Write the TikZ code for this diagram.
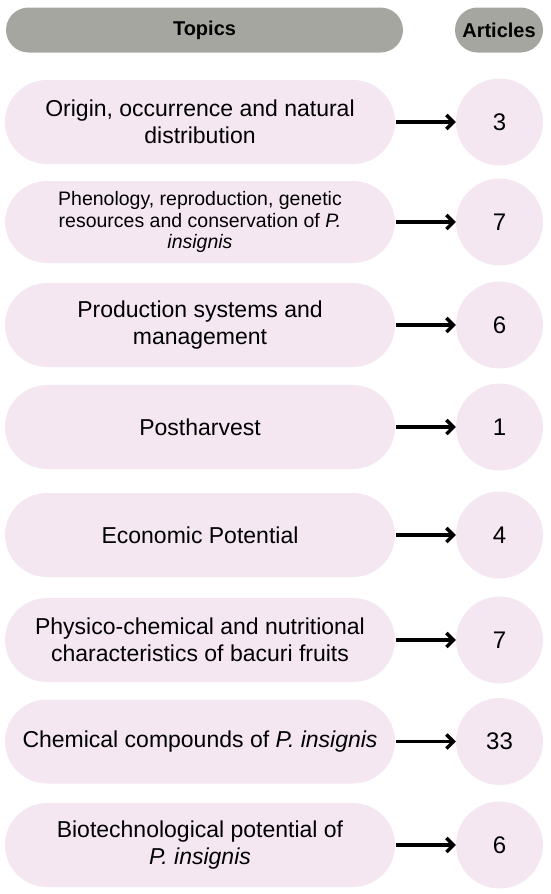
\documentclass[tikz,border=0pt]{standalone}
\usepackage{fontspec}
\setmainfont{Liberation Sans}
\usepackage{tikz}
\usetikzlibrary{arrows.meta}

\definecolor{pillpink}{RGB}{244,231,242}
\definecolor{headgray}{RGB}{166,166,161}

\begin{document}
\begin{tikzpicture}[x=1pt, y=-1pt,
    head/.style={fill=headgray, rounded corners=22.5pt, minimum height=45pt,
      inner sep=0pt, font=\fontsize{20}{24}\selectfont\bfseries},
    topic/.style={fill=pillpink, rounded corners=42pt, minimum width=390pt,
      minimum height=84pt, inner sep=0pt, align=center,
      font=\fontsize{23}{27}\selectfont},
    count/.style={circle, fill=pillpink, minimum size=87pt, inner sep=0pt,
      font=\fontsize{24}{28}\selectfont},
    link/.style={line width=3.4pt, shorten <=1pt,
      -{Straight Barb[length=7pt,width=14pt,line width=3.4pt]}}]
  \useasboundingbox (0,0) rectangle (550,894);

  \node[head, minimum width=397pt] (topics) at (204.5,30) {Topics};
  \node[head, minimum width=88pt] (articles) at (499,30) {Articles};

  \node[topic] (t1) at (200,122) {Origin, occurrence and natural\\distribution};
  \node[count] (n1) at (499.5,122) {3};
  \node[topic, minimum height=82pt, font=\fontsize{19.5}{21.5}\selectfont] (t2) at (200,222)
    {Phenology, reproduction, genetic\\resources and conservation of \textit{P.}\\\textit{insignis}};
  \node[count] (n2) at (499.5,222) {7};
  \node[topic] (t3) at (200,325) {Production systems and\\management};
  \node[count] (n3) at (499.5,325) {6};
  \node[topic] (t4) at (200,427) {Postharvest};
  \node[count] (n4) at (499.5,427) {1};
  \node[topic] (t5) at (200,535) {Economic Potential};
  \node[count] (n5) at (499.5,535) {4};
  \node[topic] (t6) at (200,640) {Physico-chemical and nutritional\\characteristics of bacuri fruits};
  \node[count] (n6) at (499.5,640) {7};
  \node[topic] (t7) at (200,741.5) {Chemical compounds of \textit{P. insignis}};
  \node[count] (n7) at (499.5,741.5) {33};
  \node[topic] (t8) at (200,845) {Biotechnological potential of\\\textit{P. insignis}};
  \node[count] (n8) at (499.5,845) {6};

  \draw[link] (t1) -- (n1);
  \draw[link] (t2) -- (n2);
  \draw[link] (t3) -- (n3);
  \draw[link] (t4) -- (n4);
  \draw[link] (t5) -- (n5);
  \draw[link] (t6) -- (n6);
  \draw[link] (t7) -- (n7);
  \draw[link] (t8) -- (n8);
\end{tikzpicture}
\end{document}
